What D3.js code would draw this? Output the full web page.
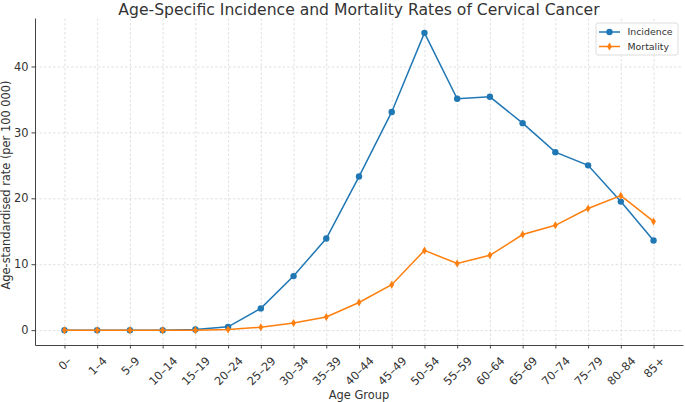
<!DOCTYPE html>
<html>
<head>
<meta charset="utf-8">
<script src="https://cdn.jsdelivr.net/npm/d3@7"></script>
<style>
  body { margin: 0; background: #fff; }
  text { font-family: "DejaVu Sans", sans-serif; fill: #333; }
  .grid line { stroke: #d4d4d4; stroke-dasharray: 2.5,2; stroke-width: 0.7; }
  .grid path { display: none; }
  .axis path, .axis line { stroke: #444; }
  .axis text { font-size: 11.4px; fill: #333; }
</style>
</head>
<body>
<div id="chart"></div>
<script>
// data
const ageGroups = ["0–", "1–4", "5–9", "10–14", "15–19", "20–24", "25–29", "30–34", "35–39",
  "40–44", "45–49", "50–54", "55–59", "60–64", "65–69", "70–74", "75–79", "80–84", "85+"];
const incidence = [0, 0, 0, 0, 0.1, 0.5, 3.3, 8.2, 13.9, 23.3, 33.1, 45.1, 35.1, 35.4, 31.4, 27.0, 25.0, 19.5, 13.6];
const mortality = [0, 0, 0, 0, 0, 0.1, 0.45, 1.1, 2.0, 4.2, 6.9, 12.1, 10.1, 11.35, 14.5, 15.9, 18.45, 20.4, 16.5];
const yTicks = [0, 10, 20, 30, 40];

const W = 685, H = 402;
const margin = { top: 18, right: 2, bottom: 57, left: 35 };
const width = W - margin.left - margin.right;
const height = H - margin.top - margin.bottom;

const svg = d3.select("#chart").append("svg")
    .attr("width", W)
    .attr("height", H);

const g = svg.append("g")
    .attr("transform", `translate(${margin.left},${margin.top})`);

const n = ageGroups.length;
const pad = (n - 1) * 0.05;
const x = d3.scaleLinear()
    .domain([-pad, n - 1 + pad])
    .range([0, width]);

const yMax = d3.max(incidence);
const y = d3.scaleLinear()
    .domain([-yMax * 0.05, yMax * 1.05])
    .range([height, 0]);

// grid
g.append("g")
    .attr("class", "grid")
    .attr("transform", `translate(0,${height})`)
    .call(d3.axisBottom(x).tickValues(d3.range(n)).tickSize(-height).tickFormat(""));
g.append("g")
    .attr("class", "grid")
    .call(d3.axisLeft(y).tickValues(yTicks).tickSize(-width).tickFormat(""));

// axes
const xAxis = g.append("g")
    .attr("class", "axis")
    .attr("transform", `translate(0,${height})`)
    .call(d3.axisBottom(x).tickValues(d3.range(n)).tickSize(3.5).tickSizeOuter(0)
        .tickFormat(i => ageGroups[i]));

// rotated labels, centred under the tick like matplotlib's rotation=45
xAxis.selectAll(".tick text").each(function() {
  const t = d3.select(this);
  const len = this.getComputedTextLength();
  const cy = 9.5 + (len + 12) * 0.3535;
  t.attr("y", 0)
   .attr("dy", "0.35em")
   .attr("text-anchor", "middle")
   .attr("transform", `translate(0,${cy}) rotate(-45)`);
});

g.append("g")
    .attr("class", "axis")
    .call(d3.axisLeft(y).tickValues(yTicks).tickSize(3.5).tickSizeOuter(0));

g.selectAll(".axis .domain").attr("stroke", "#444").attr("stroke-width", 1);

// lines
const series = [
  { name: "Incidence", values: incidence, color: "#1f77b4", marker: "circle" },
  { name: "Mortality", values: mortality, color: "#ff7f0e", marker: "diamond" }
];

const line = d3.line()
    .x((d, i) => x(i))
    .y(d => y(d));

function drawMarker(sel, s, cx, cy) {
  if (s.marker === "circle") {
    sel.append("circle").attr("cx", cx).attr("cy", cy).attr("r", 3.2).attr("fill", s.color);
  } else {
    sel.append("path")
      .attr("d", `M${cx},${cy - 4} L${cx + 2.4},${cy} L${cx},${cy + 4} L${cx - 2.4},${cy} Z`)
      .attr("fill", s.color);
  }
}

series.forEach(s => {
  g.append("path")
    .datum(s.values)
    .attr("d", line)
    .attr("fill", "none")
    .attr("stroke", s.color)
    .attr("stroke-width", 1.5);
  const mg = g.append("g");
  s.values.forEach((v, i) => drawMarker(mg, s, x(i), y(v)));
});

// title and labels
svg.append("text")
    .attr("x", margin.left + width / 2)
    .attr("y", 15)
    .attr("text-anchor", "middle")
    .style("font-size", "15.6px")
    .text("Age-Specific Incidence and Mortality Rates of Cervical Cancer");

svg.append("text")
    .attr("x", margin.left + width / 2)
    .attr("y", 399)
    .attr("text-anchor", "middle")
    .style("font-size", "11.4px")
    .text("Age Group");

svg.append("text")
    .attr("transform", `translate(10,185) rotate(-90)`)
    .attr("text-anchor", "middle")
    .style("font-size", "11.4px")
    .text("Age-standardised rate (per 100 000)");

// legend
const lg = svg.append("g").attr("transform", "translate(596,23)");
lg.append("rect")
    .attr("width", 82).attr("height", 32)
    .attr("rx", 2)
    .attr("fill", "#fff").attr("fill-opacity", 0.8)
    .attr("stroke", "#ddd");
series.forEach((s, i) => {
  const yy = 9 + i * 14.5;
  lg.append("line").attr("x1", 3).attr("x2", 24).attr("y1", yy).attr("y2", yy)
    .attr("stroke", s.color).attr("stroke-width", 1.5);
  drawMarker(lg, s, 13.5, yy);
  lg.append("text").attr("x", 31.5).attr("y", yy + 3.4)
    .style("font-size", "9.4px").text(s.name);
});
</script>
</body>
</html>
